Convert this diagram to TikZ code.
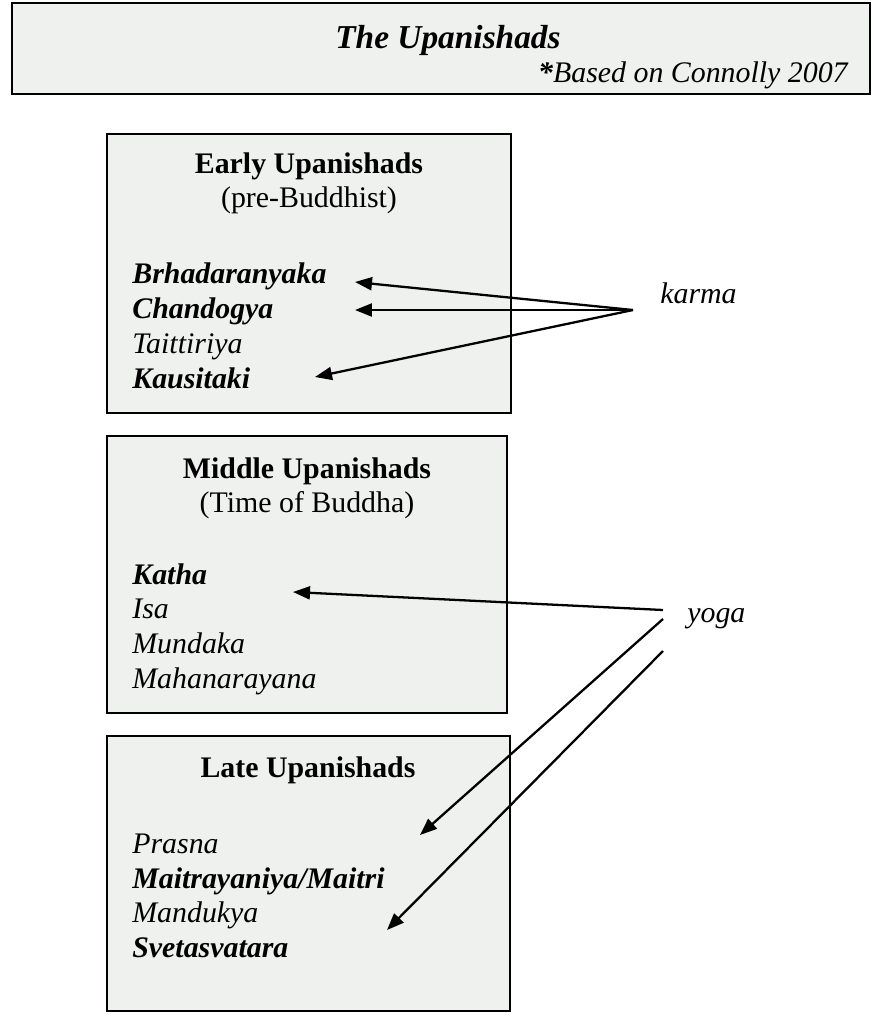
\documentclass[tikz,border=0pt]{standalone}
\usepackage{fontspec}
\setmainfont{Liberation Serif}
\usetikzlibrary{arrows.meta}
\definecolor{panelgrey}{RGB}{239,241,239}

\begin{document}
\begin{tikzpicture}[x=0.02cm,y=-0.02cm,
    panel/.style={draw=black,line width=1.6pt,fill=panelgrey,inner sep=0pt},
    item/.style={anchor=base west,inner sep=0pt,font=\fontsize{17}{20}\selectfont},
    head/.style={anchor=base,inner sep=0pt,font=\fontsize{17}{20}\selectfont},
    arr/.style={line width=1.3pt,-{Triangle[length=0.34cm,width=0.26cm]}}]
        \useasboundingbox[fill=white] (0,0) rectangle (872,1015);
        % title bar
        \node[panel,minimum width=17.16cm,minimum height=1.82cm] (titlebar) at (441,48.5) {};
        \node[anchor=base,inner sep=0pt,font=\fontsize{19}{22}\selectfont\bfseries\itshape] (title) at (448,48) {The Upanishads};
        \node[anchor=base east,inner sep=0pt,font=\fontsize{17}{20}\selectfont\itshape] (source) at (848,82) {\textbf{*}Based on Connolly 2007};
        % the three periods
        \node[panel,minimum width=8.08cm,minimum height=5.58cm] (early) at (309,273.5) {};
        \node[panel,minimum width=8.0cm,minimum height=5.54cm] (middle) at (307,574.5) {};
        \node[panel,minimum width=8.06cm,minimum height=5.5cm] (late) at (308.5,873.5) {};
        \node[head] (earlyhead) at (309,173) {\textbf{Early Upanishads}};
        \node[head] (earlysub) at (309,207) {(pre-Buddhist)};
        \node[item] (brh) at (132,283) {\textbf{\textit{Brhadaranyaka}}};
        \node[item] (chan) at (132,318) {\textbf{\textit{Chandogya}}};
        \node[item] (tait) at (132,353) {\textit{Taittiriya}};
        \node[item] (kaus) at (132,388) {\textbf{\textit{Kausitaki}}};
        \node[head] (middlehead) at (307,478) {\textbf{Middle Upanishads}};
        \node[head] (middlesub) at (307,512) {(Time of Buddha)};
        \node[item] (katha) at (132,584) {\textbf{\textit{Katha}}};
        \node[item] (isa) at (132,618) {\textit{Isa}};
        \node[item] (mund) at (132,653) {\textit{Mundaka}};
        \node[item] (maha) at (132,688) {\textit{Mahanarayana}};
        \node[head] (latehead) at (308,777) {\textbf{Late Upanishads}};
        \node[item] (prasna) at (132,853) {\textit{Prasna}};
        \node[item] (maitri) at (132,888) {\textbf{\textit{Maitrayaniya/Maitri}}};
        \node[item] (mand) at (132,922) {\textit{Mandukya}};
        \node[item] (sveta) at (132,957) {\textbf{\textit{Svetasvatara}}};
        % karma and yoga
        \node[item] (karma) at (660,303) {\textit{karma}};
        \node[item] (yoga) at (687,622) {\textit{yoga}};
        \coordinate (karmafoot) at (633,310);
        \coordinate (yogafoot1) at (663,610);
        \coordinate (yogafoot2) at (663,619);
        \coordinate (yogafoot3) at (663,651);
        \coordinate (brhtip) at (355,282);
        \coordinate (chantip) at (355,310);
        \coordinate (kaustip) at (315,377);
        \coordinate (kathatip) at (293,592);
        \coordinate (prasnatip) at (420,835);
        \coordinate (mandtip) at (387,930);
        \draw[arr] (karmafoot) -- (brhtip);
        \draw[arr] (karmafoot) -- (chantip);
        \draw[arr] (karmafoot) -- (kaustip);
        \draw[arr] (yogafoot1) -- (kathatip);
        \draw[arr] (yogafoot2) -- (prasnatip);
        \draw[arr] (yogafoot3) -- (mandtip);
    \end{tikzpicture}
\end{document}
